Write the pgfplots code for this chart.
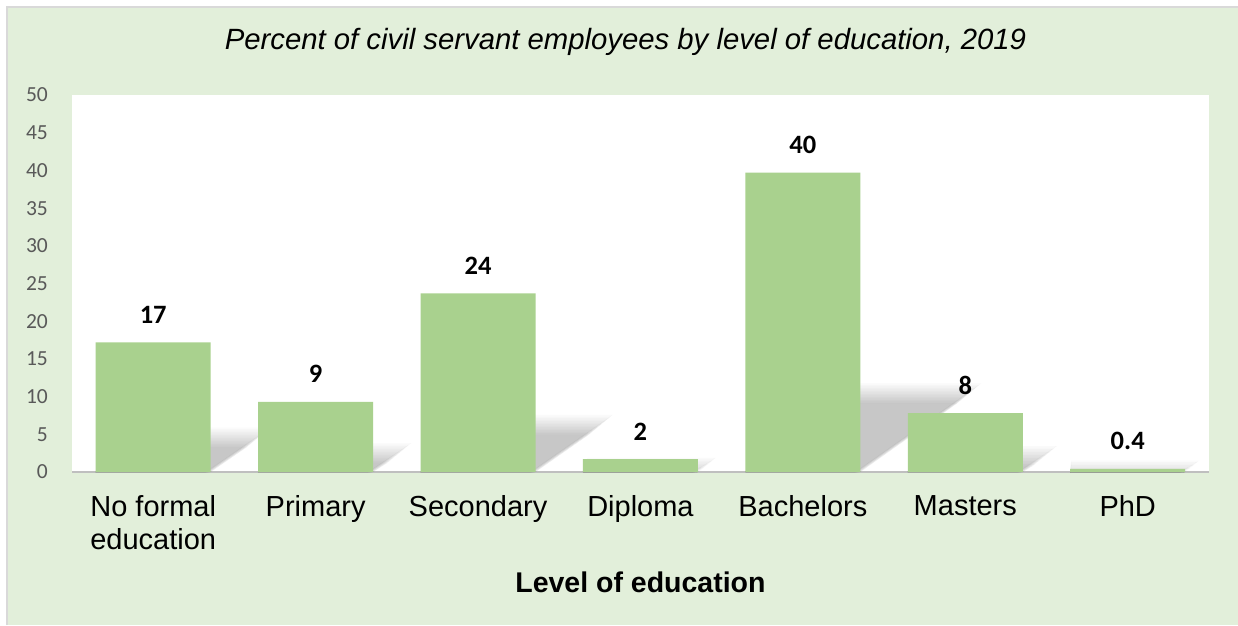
\documentclass[border=0pt]{standalone}
\usepackage{pgfplots}
\pgfplotsset{compat=1.18}
\usepackage{pgfplotstable}
\usepackage{fontspec}
\setmainfont{Liberation Sans}
\newfontfamily\carlito{Carlito}
\definecolor{bg}{HTML}{E2EFDA}
\definecolor{barc}{HTML}{A9D18E}
\definecolor{tickc}{HTML}{595959}
\definecolor{axl}{HTML}{BFBFBF}
\definecolor{brd}{HTML}{D9D9D9}
\pgfplotstableread{
x y label
0 17.2 17
1 9.3 9
2 23.7 24
3 1.7 2
4 39.7 40
5 7.8 8
6 0.4 0.4
}\datatable
\begin{document}
\begin{tikzpicture}[x=1pt,y=1pt]
\fill[white] (0,0) rectangle (1238,625);
\fill[bg] (8,0) rectangle (1238,617);
\draw[brd, line width=2pt] (7,0) -- (7,618) -- (1238,618);
\begin{axis}[
  clip marker paths=true,
  at={(72pt,153pt)}, anchor=south west,
  scale only axis, width=1137pt, height=377pt,
  xmin=-0.5, xmax=6.5, ymin=0, ymax=50,
  ytick={0,5,...,50}, xtick={0,...,6},
  xticklabels={{No formal\\education},Primary,Secondary,Diploma,Bachelors,Masters,PhD},
  axis background/.style={fill=white},
  axis x line*=bottom, axis y line*=left,
  y axis line style={draw=none},
  x axis line style={draw=axl, line width=1.5pt},
  major tick length=0pt,
  /pgf/number format/assume math mode=true,
  xticklabel style={font=\fontsize{29}{33}\selectfont, align=center, anchor=north, yshift=-23pt, inner sep=0pt, text=black},
  yticklabel style={font=\carlito\fontsize{21.5}{21.5}\selectfont, text=tickc, anchor=east, inner sep=0pt, xshift=-24pt},
  title={Percent of civil servant employees by level of education, 2019},
  title style={font=\itshape\fontsize{29.3}{29.3}\selectfont, at={(axis description cs:0.5,1)}, anchor=base, yshift=40pt, xshift=-15pt, inner sep=0pt},
  xlabel={Level of education},
  xlabel style={font=\bfseries\fontsize{28.5}{28.5}\selectfont, at={(axis description cs:0.5,0)}, anchor=base, yshift=-120pt, inner sep=0pt},
]
% soft shadows behind the bars
\addplot[only marks, scatter, mark=none,
  visualization depends on={7.54*\thisrow{y} \as \H},
  scatter/@pre marker code/.code={
    \foreach \i in {0,...,13} {
      \fill[black, opacity=0.017]
        ({(57.5-\i*0.4)*1pt},{(-\H)*1pt})
        -- ({(57.5+0.36*\H+(\i-6)*1.8)*1pt},{(-0.74*\H+(\i-6)*1.5)*1pt})
        -- ({(-57.5+0.36*\H)*1pt},{(-0.74*\H+(\i-6)*1.5)*1pt})
        -- ({(-57.5)*1pt},{(-\H)*1pt}) -- cycle;
    }
  },
  scatter/@post marker code/.code={},
] table[x=x, y=y] {\datatable};
\addplot[ybar, bar width=0.708, bar shift=0pt, fill=barc, draw=none,
  nodes near coords, point meta=explicit symbolic,
  nodes near coords style={font=\carlito\bfseries\fontsize{26.5}{26.5}\selectfont, anchor=base, inner sep=0pt, yshift=19pt, text=black},
] table[x=x, y=y, meta=label] {\datatable};
\end{axis}
\pgfresetboundingbox
\useasboundingbox (0,0) rectangle (1238,625);
\end{tikzpicture}
\end{document}
